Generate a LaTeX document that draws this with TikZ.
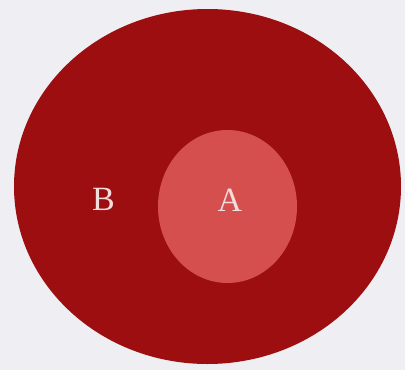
\documentclass[tikz,border=0pt]{standalone}
\usepackage{fontspec}
\setmainfont{Liberation Serif}
\usetikzlibrary{shapes.geometric}
\definecolor{bgc}{HTML}{EEEEF3}
\definecolor{outerc}{HTML}{9C0E10}
\definecolor{innerc}{HTML}{D54F4E}
\definecolor{txtc}{HTML}{F2DCDC}
\tikzset{
  region/.style={ellipse, draw=none, inner sep=0pt},
  lbl/.style={text=txtc, font=\fontsize{34}{34}\selectfont, inner sep=0pt, anchor=base}
}
\begin{document}
\begin{tikzpicture}[x=1pt,y=-1pt]
\fill[bgc] (0,0) rectangle (405,370);
\useasboundingbox (0,0) rectangle (405,370);
\node[region, fill=outerc, minimum width=387pt, minimum height=355pt] (B) at (207.5,186.5) {};
\node[region, fill=innerc, minimum width=139pt, minimum height=153pt] (A) at (227.5,206.5) {};
\node[lbl] (lb) at (103.5,210.5) {B};
\node[lbl] (la) at (230,211.5) {A};
\end{tikzpicture}
\end{document}
